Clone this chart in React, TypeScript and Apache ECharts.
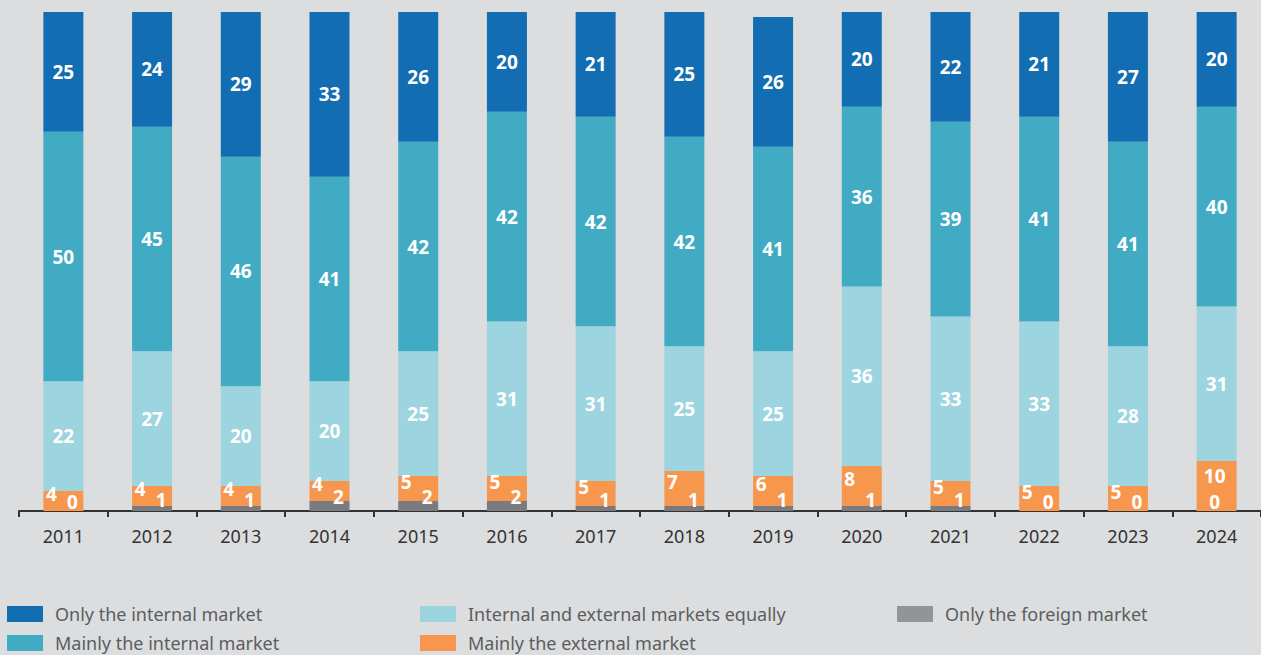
import React, { useEffect, useRef } from "react";
import * as echarts from "echarts";

const years = ["2011", "2012", "2013", "2014", "2015", "2016", "2017", "2018", "2019", "2020", "2021", "2022", "2023", "2024"];
const onlyInternal = [25, 24, 29, 33, 26, 20, 21, 25, 26, 20, 22, 21, 27, 20];
const mainlyInternal = [50, 45, 46, 41, 42, 42, 42, 42, 41, 36, 39, 41, 41, 40];
const equally = [22, 27, 20, 20, 25, 31, 31, 25, 25, 36, 33, 33, 28, 31];
const mainlyExternal = [4, 4, 4, 4, 5, 5, 5, 7, 6, 8, 5, 5, 5, 10];
const onlyForeign = [0, 1, 1, 2, 2, 2, 1, 1, 1, 1, 1, 0, 0, 0];

const names = {
  onlyInternal: "Only the internal market",
  mainlyInternal: "Mainly the internal market",
  equally: "Internal and external markets equally",
  mainlyExternal: "Mainly the external market",
  onlyForeign: "Only the foreign market",
};

const colors = {
  onlyInternal: "#126db2",
  mainlyInternal: "#41abc4",
  equally: "#9cd4df",
  mainlyExternal: "#f7974d",
  onlyForeign: "#797b7e",
};

const labelFont = {
  color: "#ffffff",
  fontFamily: "Noto Sans",
  fontWeight: "bold" as const,
  fontSize: 19,
};

const legendLayout: [string, number, number, string | null][] = [
  [names.onlyInternal, 7, 605, null],
  [names.mainlyInternal, 7, 634, null],
  [names.equally, 420, 605, null],
  [names.mainlyExternal, 420, 634, null],
  [names.onlyForeign, 897, 605, "#939496"],
];

export default function App() {
  const ref = useRef<HTMLDivElement>(null);
  useEffect(() => {
    if (!ref.current) return;
    const chart = echarts.init(ref.current, null, { renderer: "svg" });
    const wide = (i: number) => mainlyExternal[i] >= 10;
    const option: any = {
      animation: false,
      backgroundColor: "#dcdddf",
      grid: { left: 19, right: 0, top: 12, bottom: 144 },
      xAxis: {
        type: "category",
        data: years,
        axisLine: { lineStyle: { color: "#333333", width: 2 } },
        axisTick: { show: true, length: 6, lineStyle: { color: "#333333", width: 2 } },
        axisLabel: { color: "#333333", fontSize: 18, fontFamily: "Noto Sans", margin: 16 },
      },
      yAxis: { type: "value", min: 0, max: 100, show: false },
      legend: legendLayout.map(([n, x, y, c]) => ({
        left: x,
        top: y,
        padding: 0,
        itemWidth: 36,
        itemHeight: 16,
        icon: "rect",
        textStyle: { fontSize: 18, color: "#5a5d61", fontFamily: "Noto Sans", padding: [0, 0, 0, 7] },
        data: [c ? { name: n, itemStyle: { color: c } } : n],
      })),
      series: [
        {
          name: names.onlyForeign, type: "bar", stack: "t", barWidth: 40,
          itemStyle: { color: colors.onlyForeign },
          data: onlyForeign.map((v, i) => ({
            value: v,
            label: { show: true, position: "inside", offset: [wide(i) ? -2 : 9, -9], ...labelFont },
          })),
        },
        {
          name: names.mainlyExternal, type: "bar", stack: "t", barWidth: 40,
          itemStyle: { color: colors.mainlyExternal },
          data: mainlyExternal.map((v, i) => ({
            value: v,
            label: { show: true, position: "inside", offset: [wide(i) ? -2 : -12, wide(i) ? -10 : -7], ...labelFont },
          })),
        },
        {
          name: names.equally, type: "bar", stack: "t", barWidth: 40,
          itemStyle: { color: colors.equally },
          label: { show: true, position: "inside", ...labelFont },
          data: equally,
        },
        {
          name: names.mainlyInternal, type: "bar", stack: "t", barWidth: 40,
          itemStyle: { color: colors.mainlyInternal },
          label: { show: true, position: "inside", ...labelFont },
          data: mainlyInternal,
        },
        {
          name: names.onlyInternal, type: "bar", stack: "t", barWidth: 40,
          itemStyle: { color: colors.onlyInternal },
          label: { show: true, position: "inside", ...labelFont },
          data: onlyInternal,
        },
      ],
    };
    chart.setOption(option);
    return () => chart.dispose();
  }, []);
  return <div ref={ref} style={{ position: "absolute", left: 0, top: 0, width: 1261, height: 655 }} />;
}
